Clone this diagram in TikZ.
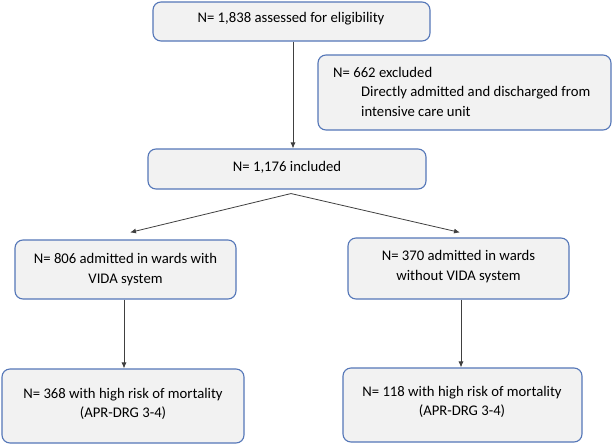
\documentclass[tikz,border=0pt]{standalone}
\usepackage{fontspec}
\setmainfont{Carlito}
\usetikzlibrary{arrows.meta}
\definecolor{boxfill}{HTML}{F2F2F2}
\definecolor{boxline}{HTML}{5577B8}
\definecolor{arrowc}{HTML}{404040}
\begin{document}
\begin{tikzpicture}[x=1pt,y=-1pt,
  box/.style={draw=boxline, fill=boxfill, line width=1.1pt, rounded corners=8pt, inner sep=0pt},
  txt/.style={font=\fontsize{14.7}{19.5}\selectfont, align=center, inner sep=0pt, text=black},
  arr/.style={draw=arrowc, line width=0.8pt, -{Latex[length=6pt,width=5pt]}}]
\useasboundingbox (0,0) rectangle (616,445);
\fill[white] (0,0) rectangle (616,445);
% boxes
\node[box, minimum width=277pt, minimum height=39pt] (b1) at (291.5,21.5) {};
\node[box, minimum width=293pt, minimum height=75pt] (b2) at (464.5,92.5) {};
\node[box, minimum width=278pt, minimum height=40pt] (b3) at (287,169) {};
\node[box, minimum width=221pt, minimum height=59pt] (b4) at (125.5,269.5) {};
\node[box, minimum width=221pt, minimum height=61pt] (b5) at (458.5,268.5) {};
\node[box, minimum width=242pt, minimum height=74pt] (b6) at (123,406) {};
\node[box, minimum width=239pt, minimum height=74pt] (b7) at (462.5,405) {};
% texts
\node[txt] (t1) at (291,18.5) {N= 1,838 assessed for eligibility};
\node[txt, align=left, anchor=north west] (t2) at (333,67) {N= 662 excluded\\\hspace*{28pt}Directly admitted and discharged from\\\hspace*{28pt}intensive care unit};
\node[txt] (t3) at (287,167) {N= 1,176 included};
\node[txt] (t4) at (125.5,269.5) {N= 806 admitted in wards with\\VIDA system};
\node[txt] (t5) at (458.5,266.5) {N= 370 admitted in wards\\without VIDA system};
\node[txt] (t6) at (123,404) {N= 368 with high risk of mortality\\(APR-DRG 3-4)};
\node[txt] (t7) at (462,402) {N= 118 with high risk of mortality\\(APR-DRG 3-4)};
% connectors
\draw[arr] ([xshift=1.5pt]b1.south) -- ([xshift=1.5pt]b1.south |- b3.north);
\draw[arr] ([xshift=4pt,yshift=-4pt]b3.south) -- ([xshift=4.5pt,yshift=7pt]b4.north);
\draw[arr] ([xshift=4pt,yshift=-4pt]b3.south) -- ([xshift=1.5pt,yshift=5pt]b5.north);
\draw[arr] ([xshift=-1.5pt]b4.south) -- ([xshift=-1.5pt]b4.south |- b6.north);
\draw[arr] ([xshift=2.5pt]b5.south) -- ([xshift=2.5pt]b5.south |- b7.north);
\end{tikzpicture}
\end{document}
